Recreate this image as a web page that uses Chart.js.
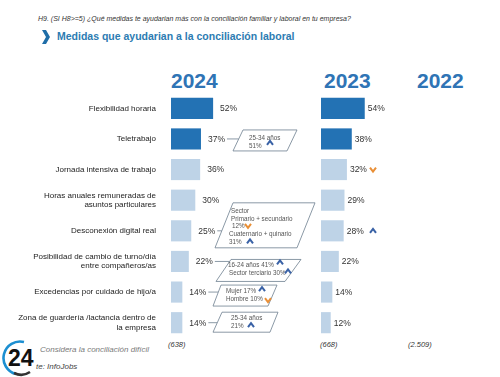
<!DOCTYPE html>
<html>
<head>
<meta charset="utf-8">
<script src="https://cdn.jsdelivr.net/npm/chart.js@4/dist/chart.umd.min.js"></script>
<style>
body{margin:0;width:500px;height:377px;position:relative;background:#fff;overflow:hidden;font-family:Arial,"Liberation Sans",sans-serif;}
canvas{position:absolute;left:0;top:0;}
.t{position:absolute;white-space:nowrap;}
.year{font-weight:bold;font-size:21px;line-height:21px;color:#2f74b5;top:70px;}
.n{font-style:italic;font-size:7.5px;line-height:8px;color:#333;top:341px;}
</style>
</head>
<body>

<div class="t" style="left:38px;top:15px;font-style:italic;font-size:7px;line-height:8px;color:#333;">H9. (SI H8&gt;=5) ¿Qué medidas te ayudarian más con la conciliación familiar y laboral en tu empresa?</div>
<svg style="position:absolute;left:41px;top:30px" width="10" height="14"><polygon points="1,0 5,0 9,7 5,14 1,14 5,7" fill="#1f6ea8"/></svg>
<div class="t" style="left:57px;top:31px;font-weight:bold;font-size:10.5px;line-height:11px;color:#2c7cb2;">Medidas que ayudarian a la conciliación laboral</div>

<div class="t year" id="y0" style="left:171px"></div>
<div class="t year" id="y1" style="left:324px"></div>
<div class="t year" id="y2" style="left:417px"></div>

<div class="t n" id="n0" style="left:168px"></div>
<div class="t n" id="n1" style="left:320px"></div>
<div class="t n" id="n2" style="left:408px"></div>

<svg style="position:absolute;left:2px;top:340px" width="38" height="37">
<path d="M 14 34 A 16 16 0 0 1 22 2" fill="none" stroke="#1c8fd1" stroke-width="2.6"/>
<path d="M 28 32 A 16 16 0 0 1 12 33" fill="none" stroke="#333" stroke-width="2.6"/>
<text x="6" y="26" font-family="Arial, Liberation Sans, sans-serif" font-weight="bold" font-size="23" fill="#111">24</text>
</svg>
<div class="t" style="left:40px;top:345px;font-style:italic;font-size:8px;line-height:9px;color:#7a7a7a;">Considera la conciliación difícil</div>
<div class="t" style="left:36px;top:362px;font-style:italic;font-size:8px;line-height:9px;color:#444;">te: InfoJobs</div>

<canvas id="chart2024" width="500" height="377"></canvas>
<canvas id="chart2023" width="500" height="377"></canvas>

<script>

// chart data
const categories = [
"Flexibilidad horaria",
"Teletrabajo",
"Jornada intensiva de trabajo",
["Horas anuales remuneradas de","asuntos particulares"],
"Desconexión digital real",
["Posibilidad de cambio de turno/día","entre compañeros/as"],
"Excedencias por cuidado de hijo/a",
["Zona de guardería /lactancia dentro de","la empresa"]
];

const values2024 = [52,37,36,30,25,22,14,14];
const values2023 = [54,38,32,29,28,22,14,12];

const years = ["2024","2023","2022"];
const sampleSizes = ["(638)","(668)","(2.509)"];

// rows drawn in the darker blue
const topRows = 2;

// 2023 trend marks: row index, direction
const trends2023 = [[2,"down"],[4,"up"]];

/* COLOURS */

const DARK = "#2372b4";
const LIGHT = "#bed3e7";
const UP = "#3a62a6";
const DOWN = "#e98f36";
const FONT = 'Arial, "Liberation Sans", sans-serif';

years.forEach((y,i) => document.getElementById("y"+i).textContent = y);
sampleSizes.forEach((s,i) => document.getElementById("n"+i).textContent = s);

function barColors(vals){
return vals.map((v,i) => i < topRows ? DARK : LIGHT);
}

function chevron(ctx, x, y, dir){
ctx.save();
ctx.strokeStyle = dir === "up" ? UP : DOWN;
ctx.lineWidth = 2;
ctx.lineJoin = "miter";
ctx.beginPath();
if(dir === "up"){
ctx.moveTo(x-3, y+2); ctx.lineTo(x, y-2); ctx.lineTo(x+3, y+2);
}else{
ctx.moveTo(x-3, y-2); ctx.lineTo(x, y+2); ctx.lineTo(x+3, y-2);
}
ctx.stroke();
ctx.restore();
}

/* CALLOUTS (segment notes next to the 2024 bars) */

const callouts = [
{row:1, top:-9, bottom:12, topX:[243,297], botX:[233,287], lines:[
{t:"25-34 años", x:249, dy:-1},
{t:"51%", x:249, dy:7}
], marks:[[270,4,"up"]]},
{row:4, top:-28, bottom:17, topX:[233,315], botX:[215,297], lines:[
{t:"Sector", x:231, dy:-20},
{t:"Primario + secundario", x:231, dy:-12},
{t:"12%", x:232, dy:-5},
{t:"Cuaternario + quinario", x:229, dy:3},
{t:"31%", x:229, dy:11}
], marks:[[248,-5,"down"],[250,10.5,"up"]]},
{row:5, top:-2, bottom:20, topX:[231,301], botX:[216,285], lines:[
{t:"16-24 años 41%", x:228, dy:4},
{t:"Sector terciario 30%", x:229, dy:12}
], marks:[[280,1,"up"],[288,10,"up"]]},
{row:6, top:-7, bottom:14, topX:[221,277], botX:[213,268], lines:[
{t:"Mujer 17%", x:226, dy:-1},
{t:"Hombre 10%", x:226, dy:7}
], marks:[[262,-3,"up"],[268,8,"down"]]},
{row:7, top:-10.5, bottom:9.5, topX:[222,278], botX:[213,270], lines:[
{t:"25-34 años", x:231, dy:-4},
{t:"21%", x:231, dy:4}
], marks:[[251,2.5,"up"]]}
];

/* PLUGINS */

function valueLabels(gap){
return {
id:"valueLabels",
afterDatasetsDraw(chart){
const ctx = chart.ctx;
const meta = chart.getDatasetMeta(0);
const data = chart.data.datasets[0].data;
ctx.save();
ctx.font = "8.5px " + FONT;
ctx.fillStyle = "#333";
ctx.textBaseline = "middle";
meta.data.forEach((bar,i) => {
ctx.fillText(data[i] + "%", bar.x + gap, bar.y + 0.5);
});
ctx.restore();
}
};
}

const calloutPlugin = {
id:"callouts",
afterDraw(chart){
const ctx = chart.ctx;
const yScale = chart.scales.y;
const meta = chart.getDatasetMeta(0);
const data = chart.data.datasets[0].data;

ctx.save();
ctx.font = "8.5px " + FONT;

callouts.forEach(c => {

const cy = yScale.getPixelForValue(c.row);
const y0 = cy + c.top;
const y1 = cy + c.bottom;

/* connector */
const labelEnd = meta.data[c.row].x + 7 + ctx.measureText(data[c.row] + "%").width + 2;
const edgeX = c.topX[0] + (c.botX[0] - c.topX[0]) * (cy - y0) / (y1 - y0);

ctx.strokeStyle = "#6d7f8f";
ctx.lineWidth = 0.8;
ctx.beginPath();
ctx.moveTo(labelEnd, cy);
ctx.lineTo(edgeX, cy);
ctx.stroke();

/* box */
ctx.beginPath();
ctx.moveTo(c.topX[0], y0);
ctx.lineTo(c.topX[1], y0);
ctx.lineTo(c.botX[1], y1);
ctx.lineTo(c.botX[0], y1);
ctx.closePath();
ctx.fillStyle = "#fff";
ctx.fill();
ctx.stroke();

/* text */
ctx.save();
ctx.font = "6.3px " + FONT;
ctx.fillStyle = "#555";
ctx.textBaseline = "middle";
c.lines.forEach(l => ctx.fillText(l.t, l.x, cy + l.dy));
ctx.restore();

c.marks.forEach(m => chevron(ctx, m[0], cy + m[1], m[2]));

});

ctx.restore();
}
};

const trendPlugin = {
id:"trends",
afterDraw(chart){
const yScale = chart.scales.y;
trends2023.forEach(t => {
chevron(chart.ctx, 373, yScale.getPixelForValue(t[0]), t[1]);
});
}
};

/* CHARTS */

function makeChart(id, vals, padLeft, padRight, showLabels, gap, extra){

return new Chart(document.getElementById(id),{

type:"bar",

data:{
labels:categories,
datasets:[{
data:vals,
backgroundColor:barColors(vals),
borderWidth:0,
barPercentage:0.69,
categoryPercentage:1
}]
},

options:{
indexAxis:"y",
responsive:false,
animation:false,
layout:{padding:{left:padLeft, right:padRight, top:93, bottom:39}},
plugins:{legend:{display:false}, tooltip:{enabled:false}},
scales:{
x:{display:false, min:0, max:100},
y:{
display:showLabels,
grid:{display:false, drawTicks:false},
border:{display:false},
ticks:{
padding:15,
color:"#222",
font:{family:FONT, size:8, lineHeight:1.2}
},
afterFit(scale){ if(showLabels) scale.width = 171; }
}
}
},

plugins:[valueLabels(gap)].concat(extra)

});

}

makeChart("chart2024", values2024, 0, 248, true, 7, [calloutPlugin]);
makeChart("chart2023", values2023, 321, 98, false, 3, [trendPlugin]);

</script>
</body>
</html>
